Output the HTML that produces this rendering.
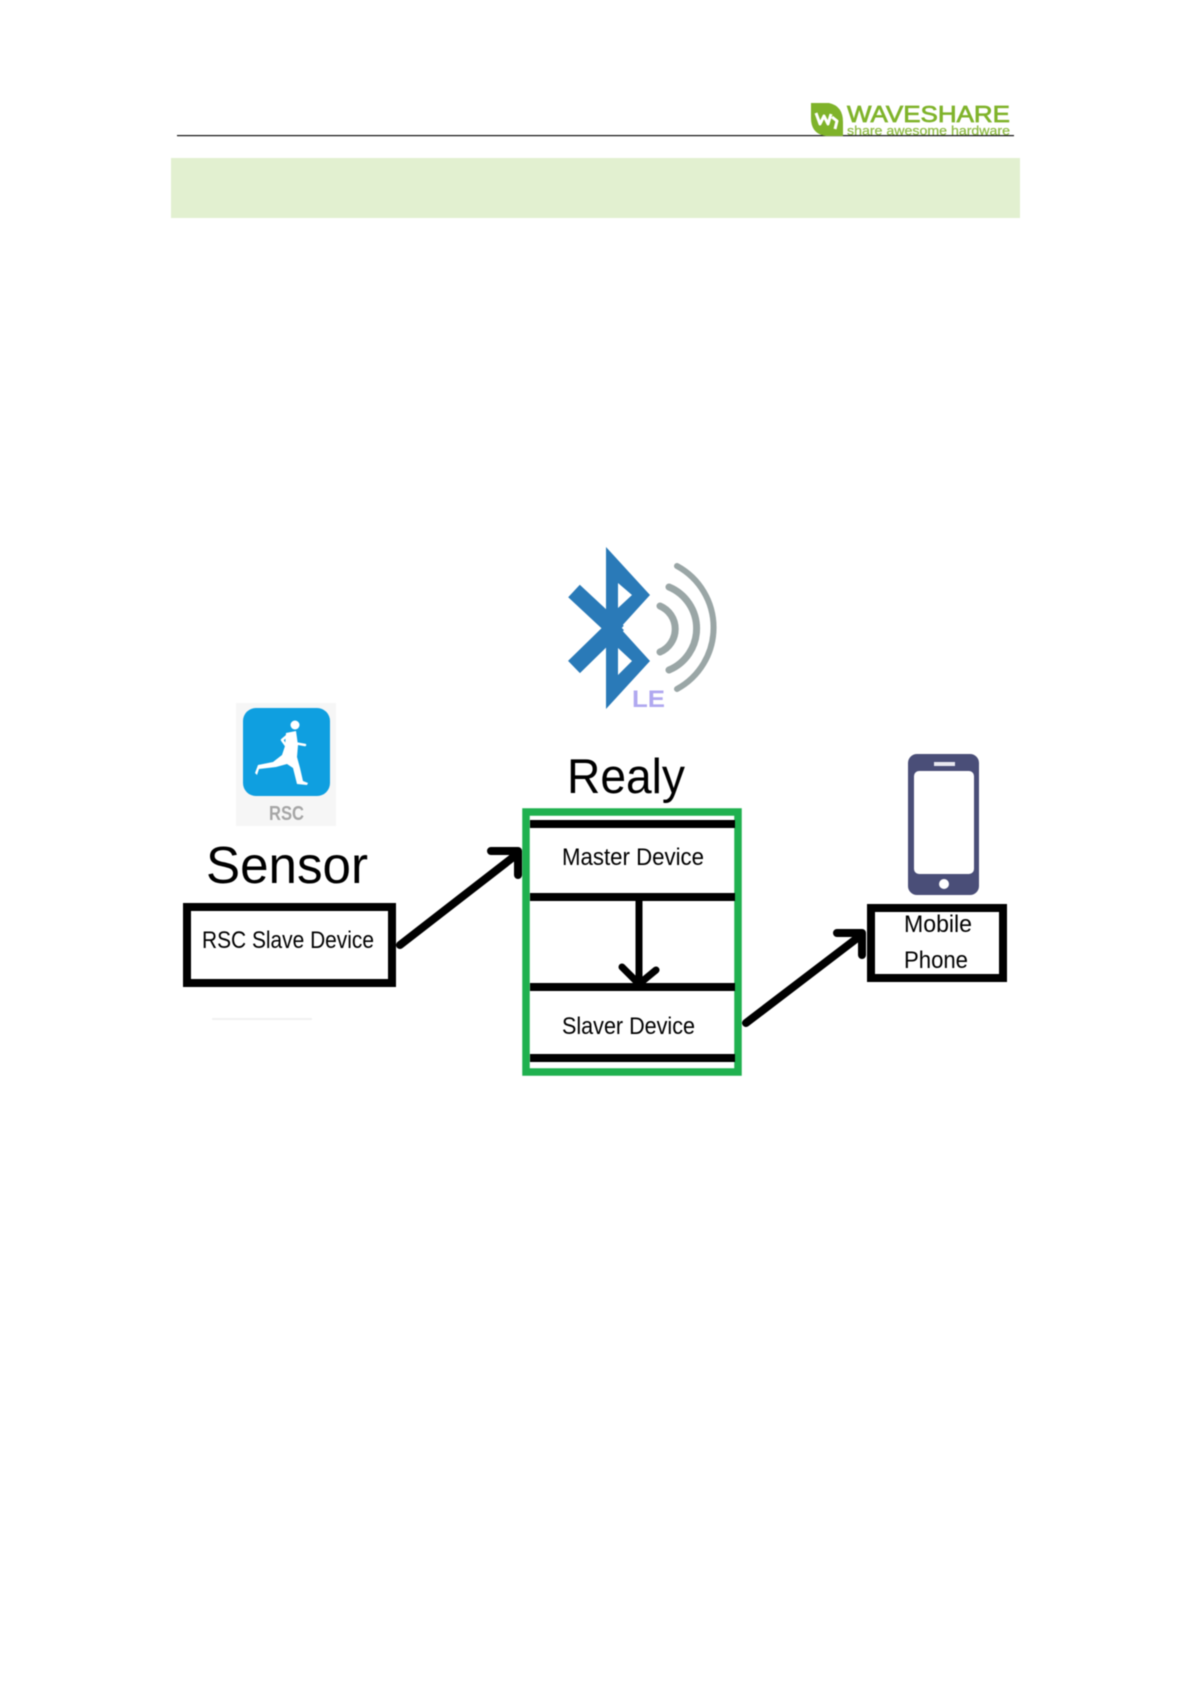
<!DOCTYPE html>
<html lang="en">
<head>
<meta charset="utf-8">
<title>BLE relay diagram</title>
<style>
html,body{margin:0;padding:0;background:#fff;width:1191px;height:1684px;overflow:hidden}
svg{display:block;filter:blur(0.4px)}
text{font-family:"Liberation Sans",sans-serif;fill:#000}
</style>
</head>
<body>
<svg xmlns="http://www.w3.org/2000/svg" width="1191" height="1684" viewBox="0 0 1191 1684">
<rect width="1191" height="1684" fill="#fff"/>

<!-- header -->
<text x="847" y="135" font-size="13" textLength="163" lengthAdjust="spacingAndGlyphs" style="fill:#8fbb45;stroke:#8fbb45;stroke-width:.25">share awesome hardware</text>
<rect x="177" y="135" width="837" height="1.2" fill="#111"/>
<path d="M811 103H829Q843 106 843 122V136H826Q811 134 811 118Z" fill="#7fb32a"/>
<path d="M816 113L820 124L824 116L828 124L831 114M832 117L837 121L835 129" fill="none" stroke="#fff" stroke-width="3" stroke-linejoin="round"/>
<text x="847" y="122" font-size="23" textLength="163" lengthAdjust="spacingAndGlyphs" style="fill:#7fb32a;stroke:#7fb32a;stroke-width:.7">WAVESHARE</text>
<rect x="171" y="158" width="849" height="60" fill="#e2f0d0"/>

<!-- bluetooth -->
<g fill="#2a7ab8">
<path fill-rule="evenodd" d="M606 547L650 595L620 628L650 661L606 709ZM618 583V608L632 595ZM618 648V675L632 661Z"/>
<path d="M574 591L618 632M574 667L618 624" stroke="#2a7ab8" stroke-width="17" fill="none"/>
</g>
<g fill="none" stroke="#9aa6a6" stroke-linecap="round">
<path d="M660 606A25 25 0 0 1 660 652" stroke-width="7"/>
<path d="M669 587A45 45 0 0 1 669 670" stroke-width="7"/>
<path d="M677 566A70 70 0 0 1 677 689" stroke-width="6"/>
</g>
<text x="632" y="707" font-size="24" font-weight="bold" textLength="33" lengthAdjust="spacingAndGlyphs" style="fill:#b0a8f0">LE</text>

<!-- RSC icon -->
<rect x="236" y="703" width="100" height="123" fill="#f6f6f6"/>
<rect x="243" y="708" width="87" height="88" rx="13" fill="#0f9fe0"/>
<circle cx="295" cy="725" r="4.5" fill="#fff"/>
<path d="M286 733L296 731L298 745L297 757L300 768L303 781L308 783L307 785L297 784L293 768L287 764L276 767L259 769L257 775L255 773L258 765L273 762L282 755L285 746Z" fill="#fff"/>
<g fill="none" stroke="#fff" stroke-linecap="round" stroke-linejoin="round">
<path d="M294 743L305 745" stroke-width="2.5"/>
<path d="M288 735L282 740L287 747" stroke-width="2.5"/>
</g>
<text x="269" y="820" font-size="20" font-weight="bold" textLength="35" lengthAdjust="spacingAndGlyphs" style="fill:#a6a6a6">RSC</text>

<!-- sensor -->
<text x="206" y="883" font-size="52" textLength="162" lengthAdjust="spacingAndGlyphs">Sensor</text>
<rect x="187" y="907" width="205" height="76" fill="#fff" stroke="#000" stroke-width="8"/>
<text x="202" y="948" font-size="24" textLength="172" lengthAdjust="spacingAndGlyphs">RSC Slave Device</text>
<rect x="212" y="1018" width="100" height="2" fill="#f2f2f2"/>

<!-- arrow 1 -->
<g fill="none" stroke="#000" stroke-width="8" stroke-linecap="round" stroke-linejoin="round">
<path d="M400 945L516 855"/>
<path d="M491 851L518 851L518 875"/>
</g>

<!-- relay -->
<text x="567" y="793" font-size="49" textLength="118" lengthAdjust="spacingAndGlyphs">Realy</text>
<rect x="526" y="812" width="212" height="260" fill="#fff" stroke="#1fb14f" stroke-width="7.5"/>
<g fill="#000">
<rect x="530" y="820" width="205" height="8"/>
<rect x="530" y="893" width="205" height="8"/>
<rect x="530" y="983" width="205" height="8"/>
<rect x="530" y="1054" width="205" height="8"/>
</g>
<text x="562" y="865" font-size="24" textLength="142" lengthAdjust="spacingAndGlyphs">Master Device</text>
<text x="562" y="1034" font-size="24" textLength="133" lengthAdjust="spacingAndGlyphs">Slaver Device</text>
<g fill="none" stroke="#000" stroke-linecap="round">
<path d="M639 900V985" stroke-width="7"/>
<path d="M622 967L639 984L656 970" stroke-width="7" stroke-linejoin="round"/>
</g>

<!-- arrow 2 -->
<g fill="none" stroke="#000" stroke-width="8" stroke-linecap="round" stroke-linejoin="round">
<path d="M746 1023L860 936"/>
<path d="M837 933L862 933L862 955"/>
</g>

<!-- phone -->
<rect x="908" y="754" width="71" height="141" rx="9" fill="#4a4e78"/>
<rect x="914" y="771" width="60" height="103" rx="5" fill="#fff"/>
<rect x="934" y="762" width="21" height="4" fill="#e8e8f0"/>
<circle cx="944" cy="884" r="5" fill="#fff"/>

<!-- mobile box -->
<rect x="871" y="908" width="132" height="70" fill="#fff" stroke="#000" stroke-width="8"/>
<text x="904" y="932" font-size="24" textLength="68" lengthAdjust="spacingAndGlyphs">Mobile</text>
<text x="904" y="968" font-size="24" textLength="64" lengthAdjust="spacingAndGlyphs">Phone</text>
</svg>
</body>
</html>
